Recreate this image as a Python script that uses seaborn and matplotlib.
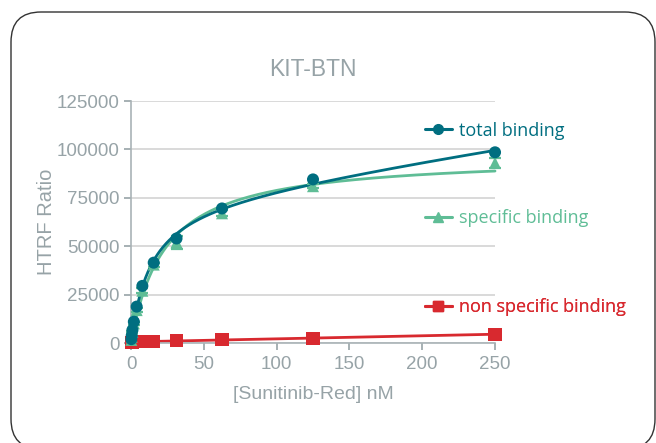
import numpy as np
import pandas as pd
import matplotlib
matplotlib.use("Agg")
import matplotlib.pyplot as plt
import seaborn as sns
from matplotlib.lines import Line2D
from matplotlib.patches import FancyBboxPatch

# Ligand concentrations (nM)
concentration = [0.24, 0.49, 0.98, 1.95, 3.9, 7.8, 15.6, 31.25, 62.5, 125, 250]

# HTRF ratio readouts
total_binding = [2000, 3800, 6700, 11000, 18800, 29500, 41500, 54000, 69500, 84500, 98500]
specific_binding = [1600, 3200, 5800, 10200, 17000, 27000, 40500, 52000, 67000, 81000, 93000]
specific_err = [300, 400, 500, 700, 900, 1200, 1000, 3500, 1500, 1000, 2800]
nonspecific_binding = [350, 420, 500, 600, 700, 800, 900, 1200, 1700, 2500, 4500]

series_names = ["total binding", "specific binding", "non specific binding"]
colors = {"total binding": "#006e80", "specific binding": "#5fbd96",
          "non specific binding": "#d8292f"}
markers = {"total binding": "o", "specific binding": "^", "non specific binding": "s"}

GREY = "#97a3a7"

df = pd.DataFrame({
    "conc": concentration * 3,
    "ratio": total_binding + specific_binding + nonspecific_binding,
    "series": np.repeat(series_names, len(concentration)),
})


def fit_one_site(x, y, with_linear):
    """Least-squares fit of Bmax*x/(Kd+x) (+ NS*x) via a Kd grid search."""
    x = np.asarray(x, float)
    y = np.asarray(y, float)
    best = None
    for kd in np.arange(0.5, 300, 0.1):
        cols = [x / (kd + x)]
        if with_linear:
            cols.append(x)
        A = np.column_stack(cols)
        coef, *_ = np.linalg.lstsq(A, y, rcond=None)
        sse = np.sum((A @ coef - y) ** 2)
        if best is None or sse < best[0]:
            best = (sse, kd, coef)
    _, kd, coef = best

    def model(xx):
        out = coef[0] * xx / (kd + xx)
        if with_linear:
            out = out + coef[1] * xx
        return out
    return model


xs = np.linspace(0, max(concentration), 600)
fit_total = fit_one_site(concentration, total_binding, True)
fit_specific = fit_one_site(concentration, specific_binding, False)
ns_slope, ns_icpt = np.polyfit(concentration, nonspecific_binding, 1)

curves = pd.DataFrame({
    "conc": np.tile(xs, 3),
    "ratio": np.concatenate([fit_total(xs), fit_specific(xs), ns_slope * xs + ns_icpt]),
    "series": np.repeat(series_names, len(xs)),
})

sns.set_theme(style="white")
plt.rcParams["font.family"] = ["Liberation Sans", "DejaVu Sans"]

fig = plt.figure(figsize=(6.56, 4.43), dpi=100)
ax = fig.add_axes([0.1997, 0.2257, 0.5549, 0.5463])

# fitted curves
sns.lineplot(data=curves, x="conc", y="ratio", hue="series", palette=colors,
             hue_order=series_names[::-1], linewidth=2.0, legend=False, ax=ax,
             clip_on=False)

# error bars on specific binding
ax.errorbar(concentration, specific_binding, yerr=specific_err, fmt="none",
            ecolor=colors["specific binding"], elinewidth=1.6, capsize=4.5,
            capthick=1.6, zorder=3, clip_on=False)

# data points
for name in series_names[::-1]:
    sub = df[df["series"] == name]
    sns.scatterplot(data=sub, x="conc", y="ratio", color=colors[name],
                    marker=markers[name], s=75 if name != "non specific binding" else 90,
                    edgecolor="none", ax=ax, zorder=4, clip_on=False, legend=False)

ax.set_xlim(0, 250)
ax.set_ylim(0, 125000)
ax.set_xticks([0, 50, 100, 150, 200, 250])
ax.set_yticks([0, 25000, 50000, 75000, 100000, 125000])
ax.yaxis.grid(True, color="#d3d3d3", linewidth=1.2)
ax.set_axisbelow(True)
for side in ["top", "right"]:
    ax.spines[side].set_visible(False)
for side in ["left", "bottom"]:
    ax.spines[side].set_color("#a9b3b6")
    ax.spines[side].set_linewidth(1.2)
ax.tick_params(axis="both", colors=GREY, labelsize=13.5, length=5, width=1.2,
               direction="out", bottom=True, left=True)
ax.tick_params(axis="y", pad=3)
ax.tick_params(axis="x", pad=4)
ax.set_xlabel("[Sunitinib-Red] nM", color=GREY, fontsize=14, labelpad=10)
ax.set_ylabel("HTRF Ratio", color=GREY, fontsize=14.5, labelpad=1)
ax.set_title("KIT-BTN", color=GREY, fontsize=16.5, pad=18)

# one legend entry per series, placed beside its curve
legend_y = {"total binding": 0.877, "specific binding": 0.517, "non specific binding": 0.147}
for name in series_names:
    handle = Line2D([], [], color=colors[name], marker=markers[name], linewidth=2.2,
                    markersize=7)
    leg = ax.legend([handle], [name], loc="center left",
                    bbox_to_anchor=(0.762, legend_y[name]), bbox_transform=ax.transAxes,
                    frameon=False, handlelength=1.5, handletextpad=0.4,
                    prop={"family": ["Open Sans", "DejaVu Sans"], "size": 13})
    for txt in leg.get_texts():
        txt.set_color(colors[name])
    ax.add_artist(leg)

# rounded card outline (in inches; bottom edge runs past the canvas)
card = FancyBboxPatch((0.11, -0.06), 6.44, 4.37,
                      boxstyle="round,pad=0,rounding_size=0.3",
                      transform=fig.dpi_scale_trans, fill=False, edgecolor="#333333",
                      linewidth=1.0, clip_on=False)
fig.patches.append(card)

fig.savefig("out.png", dpi=100)
